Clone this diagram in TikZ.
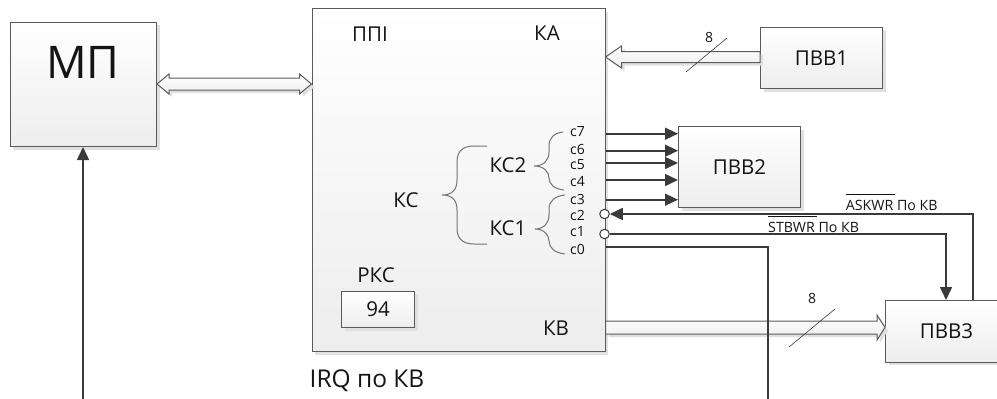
\documentclass[tikz,border=0pt]{standalone}
\usepackage{fontspec}
\setmainfont{Open Sans}
\usetikzlibrary{arrows.meta,calc,shadows}
\definecolor{ln}{HTML}{3A3A3A}
\definecolor{bd}{HTML}{5A5A5A}
\definecolor{tx}{HTML}{141414}
\tikzset{
  shadowed/.style={drop shadow={shadow xshift=3pt,shadow yshift=-3pt,fill=black!12,opacity=1}},
  block/.style={draw=bd,line width=1pt,top color=white,bottom color=black!7,shadowed,anchor=north west,inner sep=0pt,text=tx},
  bigf/.style={font=\fontsize{20.5}{22}\selectfont},
  lbl/.style={text=tx,inner sep=0pt,bigf},
  pin/.style={text=tx,inner sep=0pt,font=\fontsize{14}{16}\selectfont},
  sig/.style={text=tx,inner sep=0pt,anchor=base west,font=\fontsize{14.2}{16}\selectfont},
  conn/.style={draw=ln,line width=1.6pt},
  head/.style={-{Triangle[length=13pt,width=12pt]}},
  fat/.style={draw=bd,line width=1pt,top color=white,bottom color=black!7,shadowed},
  slash/.style={draw=ln,line width=.6pt},
  brace/.style={draw=black!55,line width=1pt},
  port/.style={circle,draw=ln,line width=1pt,fill=white,minimum size=9.5pt,inner sep=0pt},
}
\newcommand\fatboth[2]{\path[fat] let \p1=(#1),\p2=(#2) in
  (\x1,\y1) -- (\x1+12pt,\y1+10pt) -- (\x1+12pt,\y1+6pt) -- (\x2-12pt,\y2+6pt) -- (\x2-12pt,\y2+10pt) -- (\x2,\y2)
  -- (\x2-12pt,\y2-10pt) -- (\x2-12pt,\y2-6pt) -- (\x1+12pt,\y1-6pt) -- (\x1+12pt,\y1-10pt) -- cycle;}
\newcommand\fatleft[2]{\path[fat] let \p1=(#1),\p2=(#2) in
  (\x1,\y1+5.5pt) -- (\x2+16pt,\y2+5.5pt) -- (\x2+16pt,\y2+11pt) -- (\x2,\y2) -- (\x2+16pt,\y2-11pt) -- (\x2+16pt,\y2-5.5pt) -- (\x1,\y1-5.5pt) -- cycle;}
\newcommand\fatright[2]{\path[fat] let \p1=(#1),\p2=(#2) in
  (\x1,\y1+6.5pt) -- (\x2-8pt,\y2+6.5pt) -- (\x2-8pt,\y2+12.5pt) -- (\x2,\y2) -- (\x2-8pt,\y2-12.5pt) -- (\x2-8pt,\y2-6.5pt) -- (\x1,\y1-6.5pt) -- cycle;}
\begin{document}
\begin{tikzpicture}[x=1pt,y=-1pt]
\useasboundingbox (0,0) rectangle (997,399);
\clip (0,0) rectangle (997,399);
% blocks
\node[block,minimum width=146.5pt,minimum height=124.5pt] (mp) at (9.5,21.5) {};
\node[block,minimum width=293pt,minimum height=343pt] (ppi) at (311.5,8) {};
\node[block,bigf,minimum width=122pt,minimum height=61.5pt] (pvv1) at (760,26.5) {ПВВ1};
\node[block,bigf,minimum width=122pt,minimum height=81pt] (pvv2) at (678,126) {ПВВ2};
\node[block,bigf,minimum width=122pt,minimum height=61.5pt] (pvv3) at (885,300) {ПВВ3};
\node[block,bigf,minimum width=73pt,minimum height=36.5pt] (rks) at (341,290.7) {94};
% block captions
\node[text=tx,inner sep=0pt,font=\fontsize{45}{47}\selectfont] (mpt) at (83,62) {МП};
\node[lbl] (ppit) at (370,34) {ППІ};
\node[lbl] (ka) at (547,33) {КА};
\node[lbl] (ks) at (406,200) {КС};
\node[lbl] (ks2) at (508,165) {КС2};
\node[lbl] (ks1) at (508,228) {КС1};
\node[lbl] (rkst) at (376,275) {РКС};
\node[lbl] (kv) at (556,328) {КВ};
\node[text=tx,inner sep=0pt,font=\fontsize{24.5}{26}\selectfont] (irq) at (367,381) {IRQ по КВ};
% pins
\node[pin] (c7) at (577.5,131.5) {c7};
\node[pin] (c6) at (577.5,149) {c6};
\node[pin] (c5) at (577.5,165) {c5};
\node[pin] (c4) at (577.5,182) {c4};
\node[pin] (c3) at (577.5,199) {c3};
\node[pin] (c2) at (577.5,215) {c2};
\node[pin] (c1) at (577.5,232) {c1};
\node[pin] (c0) at (577.5,249) {c0};
% braces
\draw[brace] (487,146) -- (474,146) .. controls (463,146) and (457,151) .. (457,162) -- (457,180)
  .. controls (457,190) and (452,195) .. (442,195) .. controls (452,195) and (457,200) .. (457,210) -- (457,228)
  .. controls (457,239) and (463,244) .. (474,244) -- (487,244);
\draw[brace] (563,132) .. controls (554,133) and (549,138) .. (549,146) -- (549,152)
  .. controls (549,160) and (544,166) .. (534,166) .. controls (544,166) and (549,172) .. (549,178)
  .. controls (549,184) and (554,189) .. (564,190);
\draw[brace] (565,195) .. controls (555,196) and (549,201) .. (549,209) -- (549,215)
  .. controls (549,223) and (544,229) .. (535,229) .. controls (544,229) and (549,235) .. (549,241)
  .. controls (549,248) and (555,253) .. (565,254);
% fat arrows
\coordinate (a1) at (mp.east |- 0,84);
\coordinate (a2) at (ppi.west |- 0,84);
\fatboth{a1}{a2}
\coordinate (b1) at (pvv1.west |- 0,57);
\coordinate (b2) at (ppi.east |- 0,57);
\fatleft{b1}{b2}
\coordinate (d1) at (ppi.east |- 0,327.5);
\coordinate (d2) at (pvv3.west |- 0,327.5);
\fatright{d1}{d2}
% signal lines
\foreach \yy in {133.7,150.7,163,180,199.7}
  \draw[conn,head] (ppi.east |- 0,\yy) -- (pvv2.west |- 0,\yy);
\node[port] (p2) at (604.5,214) {};
\node[port] (p1) at (604.5,234) {};
\coordinate (askb) at (973,0 |- pvv3.north);
\coordinate (stbb) at (946,0 |- pvv3.north);
\draw[conn,head] (askb) |- (p2.east);
\draw[conn,head] (p1.east) -| (stbb);
\coordinate (c0end) at (768,399);
\draw[conn] (ppi.east |- 0,247) -| (c0end);
\coordinate (irqs) at (83,399);
\draw[conn,head] (irqs) -- (mp.south -| irqs);
% bus width marks
\coordinate (s1a) at (686,72); \coordinate (s1b) at (727,38);
\draw[slash] (s1a) -- (s1b);
\node[pin] (n8a) at (709,37) {8};
\coordinate (s2a) at (789,347); \coordinate (s2b) at (835,309);
\draw[slash] (s2a) -- (s2b);
\node[pin] (n8b) at (812,298) {8};
% signal names
\node[sig] (ask) at (845.7,210.5) {\rlap{\rule[15.5pt]{49pt}{.6pt}}ASKWR По КВ};
\node[sig] (stb) at (768,232.5) {\rlap{\rule[15.5pt]{49pt}{.6pt}}STBWR По КВ};
\end{tikzpicture}
\end{document}
